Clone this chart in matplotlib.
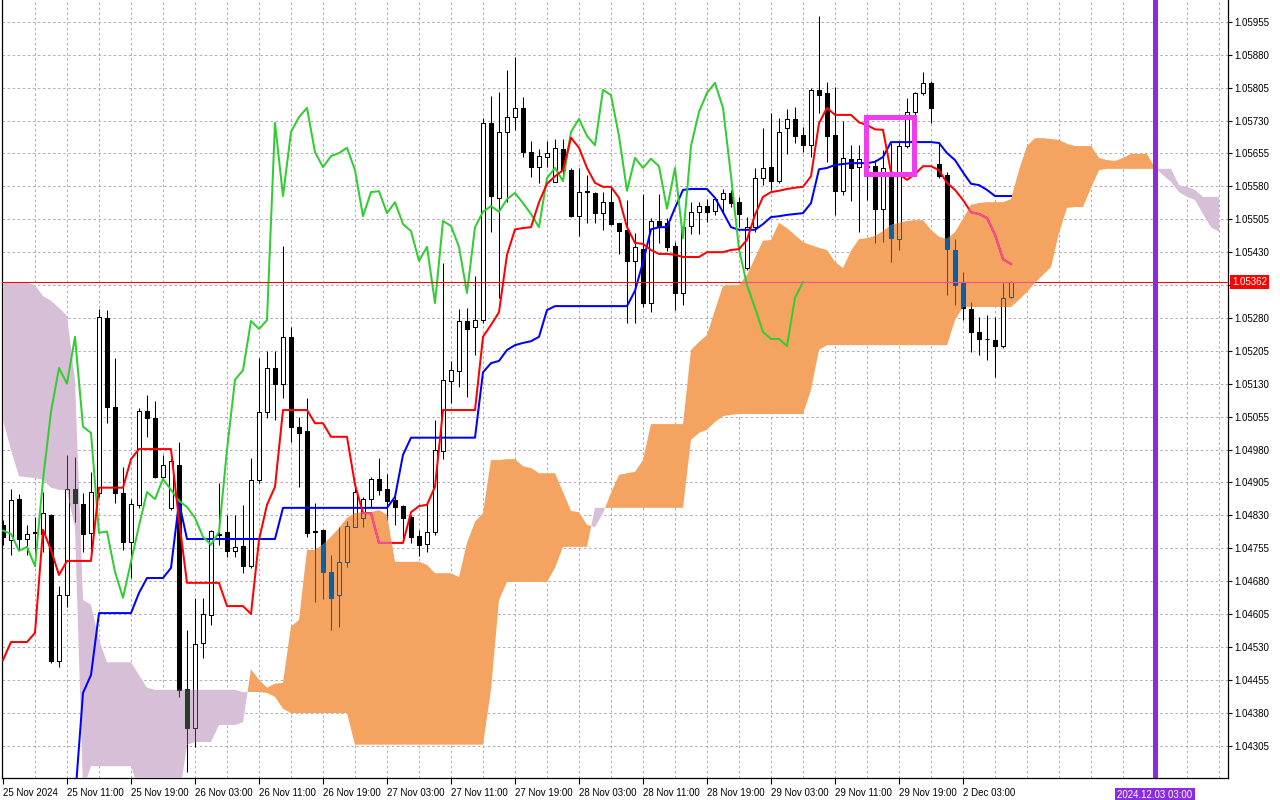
import numpy as np
import matplotlib
matplotlib.use("Agg")
import matplotlib.pyplot as plt
import matplotlib.transforms as mtransforms
from matplotlib.path import Path
from matplotlib.patches import Rectangle
from matplotlib.collections import LineCollection, PolyCollection

# ---------------- data (EURUSD H1) ----------------
open_ = [
    1.04808, 1.04774, 1.04867, 1.04776, 1.04790, 1.04788, 1.04831, 1.04498, 1.04649, 1.04890,
    1.04856, 1.04790, 1.04881, 1.05280, 1.05077, 1.04881, 1.04769, 1.04854, 1.05068, 1.05052,
    1.04917, 1.04847, 1.04945, 1.04434, 1.04345, 1.04539, 1.04603, 1.04786, 1.04792, 1.04749,
    1.04760, 1.04714, 1.04911, 1.05066, 1.05166, 1.05130, 1.05237, 1.05032, 1.05023, 1.04795,
    1.04797, 1.04701, 1.04649, 1.04724, 1.04804, 1.04824, 1.04867, 1.04913, 1.04890, 1.04865,
    1.04851, 1.04826, 1.04783, 1.04765, 1.04792, 1.04977, 1.05136, 1.05159, 1.05273, 1.05259,
    1.05275, 1.05725, 1.05554, 1.05704, 1.05738, 1.05759, 1.05658, 1.05624, 1.05647, 1.05590,
    1.05665, 1.05617, 1.05512, 1.05567, 1.05565, 1.05519, 1.05544, 1.05497, 1.05481, 1.05410,
    1.05437, 1.05314, 1.05501, 1.05497, 1.05444, 1.05337, 1.05490, 1.05522, 1.05535, 1.05524,
    1.05551, 1.05565, 1.05544, 1.05394, 1.05487, 1.05599, 1.05624, 1.05592, 1.05713, 1.05734,
    1.05697, 1.05674, 1.05800, 1.05793, 1.05697, 1.05570, 1.05643, 1.05624, 1.05624, 1.05626,
    1.05529, 1.05611, 1.05460, 1.05672, 1.05750, 1.05793, 1.05816, 1.05631, 1.05606, 1.05435,
    1.05360, 1.05301, 1.05248, 1.05232, 1.05230, 1.05216, 1.05328,
]
high = [
    1.04819, 1.04890, 1.04879, 1.04808, 1.04826, 1.04883, 1.04833, 1.04669, 1.04968, 1.04963,
    1.04881, 1.04929, 1.05300, 1.05298, 1.05189, 1.04940, 1.04867, 1.05075, 1.05104, 1.05091,
    1.04968, 1.04979, 1.04997, 1.04569, 1.04642, 1.04642, 1.04797, 1.04904, 1.04831, 1.04831,
    1.04854, 1.04961, 1.05189, 1.05205, 1.05205, 1.05444, 1.05259, 1.05054, 1.05098, 1.04858,
    1.04799, 1.04740, 1.04804, 1.04817, 1.04904, 1.04872, 1.04917, 1.04961, 1.04924, 1.04874,
    1.04854, 1.04831, 1.04797, 1.04858, 1.05047, 1.05405, 1.05182, 1.05300, 1.05303, 1.05376,
    1.05736, 1.05786, 1.05795, 1.05845, 1.05875, 1.05784, 1.05684, 1.05665, 1.05684, 1.05688,
    1.05688, 1.05622, 1.05622, 1.05606, 1.05567, 1.05567, 1.05576, 1.05497, 1.05549, 1.05474,
    1.05563, 1.05508, 1.05563, 1.05508, 1.05453, 1.05487, 1.05544, 1.05544, 1.05551, 1.05556,
    1.05574, 1.05572, 1.05556, 1.05510, 1.05622, 1.05713, 1.05747, 1.05736, 1.05757, 1.05761,
    1.05715, 1.05804, 1.05969, 1.05818, 1.05807, 1.05729, 1.05674, 1.05674, 1.05647, 1.05640,
    1.05663, 1.05679, 1.05681, 1.05782, 1.05795, 1.05841, 1.05820, 1.05681, 1.05613, 1.05460,
    1.05385, 1.05317, 1.05282, 1.05287, 1.05282, 1.05360, 1.05365,
]
low = [
    1.04763, 1.04740, 1.04751, 1.04740, 1.04740, 1.04746, 1.04493, 1.04484, 1.04621, 1.04815,
    1.04746, 1.04746, 1.04872, 1.05041, 1.04858, 1.04751, 1.04688, 1.04847, 1.05009, 1.04915,
    1.04915, 1.04842, 1.04416, 1.04245, 1.04302, 1.04505, 1.04580, 1.04763, 1.04735, 1.04735,
    1.04698, 1.04710, 1.04904, 1.05052, 1.05047, 1.05098, 1.04997, 1.04895, 1.04781, 1.04632,
    1.04639, 1.04569, 1.04575, 1.04712, 1.04804, 1.04804, 1.04849, 1.04876, 1.04819, 1.04808,
    1.04769, 1.04767, 1.04737, 1.04746, 1.04786, 1.04958, 1.05086, 1.05123, 1.05100, 1.05196,
    1.05269, 1.05476, 1.05326, 1.05544, 1.05709, 1.05647, 1.05601, 1.05588, 1.05624, 1.05590,
    1.05595, 1.05510, 1.05467, 1.05497, 1.05497, 1.05481, 1.05492, 1.05426, 1.05269, 1.05269,
    1.05305, 1.05294, 1.05451, 1.05433, 1.05298, 1.05310, 1.05471, 1.05471, 1.05499, 1.05515,
    1.05519, 1.05533, 1.05487, 1.05389, 1.05476, 1.05583, 1.05572, 1.05588, 1.05654, 1.05679,
    1.05658, 1.05647, 1.05747, 1.05636, 1.05515, 1.05560, 1.05547, 1.05476, 1.05549, 1.05451,
    1.05453, 1.05408, 1.05435, 1.05668, 1.05743, 1.05788, 1.05725, 1.05599, 1.05332, 1.05310,
    1.05275, 1.05203, 1.05196, 1.05184, 1.05146, 1.05212, 1.05326,
]
close = [
    1.04781, 1.04865, 1.04776, 1.04788, 1.04792, 1.04835, 1.04498, 1.04649, 1.04890, 1.04858,
    1.04788, 1.04883, 1.05282, 1.05077, 1.04881, 1.04769, 1.04856, 1.05068, 1.05052, 1.04917,
    1.04945, 1.04954, 1.04432, 1.04345, 1.04537, 1.04605, 1.04795, 1.04788, 1.04749, 1.04758,
    1.04714, 1.04911, 1.05066, 1.05166, 1.05130, 1.05237, 1.05032, 1.05018, 1.04790, 1.04793,
    1.04701, 1.04642, 1.04724, 1.04806, 1.04883, 1.04867, 1.04913, 1.04888, 1.04863, 1.04849,
    1.04824, 1.04781, 1.04763, 1.04792, 1.04979, 1.05139, 1.05161, 1.05273, 1.05255, 1.05275,
    1.05725, 1.05558, 1.05704, 1.05738, 1.05759, 1.05658, 1.05624, 1.05649, 1.05656, 1.05668,
    1.05617, 1.05512, 1.05567, 1.05569, 1.05519, 1.05544, 1.05494, 1.05478, 1.05410, 1.05442,
    1.05314, 1.05501, 1.05490, 1.05442, 1.05337, 1.05487, 1.05522, 1.05535, 1.05522, 1.05551,
    1.05565, 1.05542, 1.05517, 1.05487, 1.05599, 1.05622, 1.05592, 1.05704, 1.05734, 1.05695,
    1.05674, 1.05800, 1.05788, 1.05695, 1.05570, 1.05645, 1.05622, 1.05643, 1.05626, 1.05529,
    1.05622, 1.05462, 1.05672, 1.05750, 1.05793, 1.05816, 1.05759, 1.05604, 1.05437, 1.05355,
    1.05303, 1.05248, 1.05232, 1.05232, 1.05216, 1.05326, 1.05362,
]
tenkan = [
    1.04500, 1.04541, 1.04541, 1.04541, 1.04562, 1.04797, 1.04751, 1.04694, 1.04726, 1.04726,
    1.04726, 1.04726, 1.04893, 1.04893, 1.04893, 1.04893, 1.04958, 1.04981, 1.04981, 1.04981,
    1.04981, 1.04981, 1.04819, 1.04676, 1.04676, 1.04676, 1.04676, 1.04676, 1.04623, 1.04623,
    1.04623, 1.04605, 1.04774, 1.04854, 1.04895, 1.05070, 1.05070, 1.05070, 1.05070, 1.05040,
    1.05040, 1.05009, 1.05009, 1.05009, 1.04900, 1.04835, 1.04835, 1.04767, 1.04767, 1.04767,
    1.04767, 1.04837, 1.04851, 1.04854, 1.04895, 1.05070, 1.05070, 1.05070, 1.05070, 1.05070,
    1.05237, 1.05264, 1.05293, 1.05424, 1.05482, 1.05485, 1.05487, 1.05544, 1.05586, 1.05603,
    1.05617, 1.05691, 1.05668, 1.05622, 1.05588, 1.05579, 1.05579, 1.05554, 1.05487, 1.05451,
    1.05449, 1.05435, 1.05426, 1.05426, 1.05424, 1.05419, 1.05419, 1.05419, 1.05430, 1.05430,
    1.05430, 1.05435, 1.05437, 1.05458, 1.05515, 1.05556, 1.05567, 1.05570, 1.05574, 1.05577,
    1.05579, 1.05603, 1.05724, 1.05759, 1.05743, 1.05743, 1.05743, 1.05726, 1.05720, 1.05710,
    1.05709, 1.05612, 1.05608, 1.05595, 1.05608, 1.05626, 1.05626, 1.05617, 1.05588, 1.05572,
    1.05549, 1.05521, 1.05517, 1.05508, 1.05470, 1.05414, 1.05403,
]
nan = float("nan")
kijun = [
    nan, nan, nan, nan, nan, nan, nan, nan, nan, 1.04181,
    1.04425, 1.04466, 1.04607, 1.04607, 1.04607, 1.04607, 1.04607, 1.04653, 1.04687, 1.04687,
    1.04687, 1.04710, 1.04860, 1.04776, 1.04776, 1.04776, 1.04776, 1.04776, 1.04776, 1.04776,
    1.04776, 1.04776, 1.04776, 1.04776, 1.04776, 1.04847, 1.04847, 1.04847, 1.04847, 1.04847,
    1.04847, 1.04847, 1.04847, 1.04847, 1.04847, 1.04847, 1.04847, 1.04847, 1.04847, 1.04872,
    1.04968, 1.05007, 1.05007, 1.05007, 1.05007, 1.05007, 1.05007, 1.05007, 1.05007, 1.05007,
    1.05156, 1.05177, 1.05182, 1.05207, 1.05218, 1.05223, 1.05227, 1.05237, 1.05298, 1.05307,
    1.05307, 1.05307, 1.05307, 1.05307, 1.05307, 1.05307, 1.05307, 1.05307, 1.05307, 1.05342,
    1.05407, 1.05482, 1.05487, 1.05487, 1.05531, 1.05572, 1.05574, 1.05574, 1.05574, 1.05554,
    1.05521, 1.05487, 1.05481, 1.05481, 1.05481, 1.05494, 1.05510, 1.05512, 1.05515, 1.05517,
    1.05519, 1.05542, 1.05619, 1.05622, 1.05629, 1.05631, 1.05633, 1.05633, 1.05633, 1.05636,
    1.05647, 1.05681, 1.05681, 1.05681, 1.05681, 1.05681, 1.05681, 1.05679, 1.05656, 1.05640,
    1.05612, 1.05586, 1.05583, 1.05572, 1.05558, 1.05558, 1.05558,
]
span_a = [
    1.05047, 1.04979, 1.04919, 1.04917, 1.04915, 1.04911, 1.04893, 1.04888, 1.04888, 1.04801,
    1.04204, 1.04258, 1.04258, 1.04258, 1.04258, 1.04258, 1.04258, 1.04204, 1.04181, 1.04181,
    1.04181, 1.04181, 1.04181, 1.04307, 1.04313, 1.04313, 1.04313, 1.04352, 1.04352, 1.04352,
    1.04358, 1.04479, 1.04455, 1.04437, 1.04446, 1.04448, 1.04577, 1.04591, 1.04751, 1.04751,
    1.04763, 1.04781, 1.04801, 1.04824, 1.04835, 1.04837, 1.04837, 1.04842, 1.04831, 1.04724,
    1.04724, 1.04724, 1.04724, 1.04717, 1.04698, 1.04698, 1.04698, 1.04689, 1.04767, 1.04815,
    1.04835, 1.04956, 1.04956, 1.04958, 1.04958, 1.04942, 1.04938, 1.04926, 1.04926, 1.04926,
    1.04883, 1.04840, 1.04837, 1.04808, 1.04803, 1.04835, 1.04881, 1.04922, 1.04926, 1.04929,
    1.04956, 1.05038, 1.05038, 1.05038, 1.05038, 1.05038, 1.05207, 1.05225, 1.05241, 1.05298,
    1.05353, 1.05355, 1.05355, 1.05378, 1.05417, 1.05456, 1.05458, 1.05497, 1.05485, 1.05469,
    1.05453, 1.05446, 1.05440, 1.05435, 1.05408, 1.05394, 1.05433, 1.05460, 1.05462, 1.05467,
    1.05478, 1.05492, 1.05497, 1.05501, 1.05503, 1.05503, 1.05481, 1.05465, 1.05460, 1.05476,
    1.05506, 1.05538, 1.05542, 1.05544, 1.05544, 1.05544, 1.05551, 1.05617, 1.05672, 1.05690,
    1.05690, 1.05688, 1.05686, 1.05677, 1.05672, 1.05672, 1.05672, 1.05645, 1.05640, 1.05638,
    1.05645, 1.05654, 1.05654, 1.05654, 1.05622, 1.05606, 1.05590, 1.05567, 1.05556, 1.05549,
    1.05517, 1.05487, 1.05476,
]
span_b = [
    1.05360, 1.05360, 1.05360, 1.05360, 1.05355, 1.05330, 1.05319, 1.05303, 1.05285, 1.05139,
    1.04637, 1.04626, 1.04546, 1.04495, 1.04495, 1.04495, 1.04495, 1.04466, 1.04437, 1.04432,
    1.04432, 1.04432, 1.04432, 1.04432, 1.04432, 1.04432, 1.04432, 1.04432, 1.04432, 1.04432,
    1.04427, 1.04427, 1.04427, 1.04425, 1.04416, 1.04389, 1.04379, 1.04379, 1.04379, 1.04379,
    1.04379, 1.04379, 1.04379, 1.04379, 1.04307, 1.04307, 1.04307, 1.04307, 1.04307, 1.04307,
    1.04307, 1.04307, 1.04307, 1.04307, 1.04307, 1.04307, 1.04307, 1.04307, 1.04307, 1.04307,
    1.04307, 1.04432, 1.04637, 1.04678, 1.04678, 1.04678, 1.04678, 1.04678, 1.04678, 1.04710,
    1.04758, 1.04758, 1.04758, 1.04758, 1.04847, 1.04847, 1.04847, 1.04847, 1.04847, 1.04847,
    1.04847, 1.04847, 1.04847, 1.04847, 1.04847, 1.04847, 1.05002, 1.05018, 1.05025, 1.05043,
    1.05056, 1.05059, 1.05061, 1.05061, 1.05061, 1.05061, 1.05061, 1.05061, 1.05061, 1.05061,
    1.05061, 1.05116, 1.05207, 1.05218, 1.05218, 1.05218, 1.05218, 1.05218, 1.05218, 1.05218,
    1.05218, 1.05218, 1.05218, 1.05218, 1.05218, 1.05218, 1.05218, 1.05218, 1.05218, 1.05275,
    1.05305, 1.05305, 1.05305, 1.05305, 1.05305, 1.05305, 1.05305, 1.05321, 1.05339, 1.05360,
    1.05378, 1.05396, 1.05474, 1.05531, 1.05533, 1.05533, 1.05576, 1.05617, 1.05620, 1.05620,
    1.05620, 1.05620, 1.05620, 1.05620, 1.05620, 1.05620, 1.05620, 1.05583, 1.05579, 1.05572,
    1.05556, 1.05556, 1.05556,
]
time_ticks = [0, 8, 16, 24, 32, 40, 48, 56, 64, 72, 80, 88, 96, 104, 112, 120]
time_labels = ["25 Nov 2024", "25 Nov 11:00", "25 Nov 19:00", "26 Nov 03:00",
               "26 Nov 11:00", "26 Nov 19:00", "27 Nov 03:00", "27 Nov 11:00",
               "27 Nov 19:00", "28 Nov 03:00", "28 Nov 11:00", "28 Nov 19:00",
               "29 Nov 03:00", "29 Nov 11:00", "29 Nov 19:00", "2 Dec 03:00"]
price_ticks = [1.04305, 1.04380, 1.04455, 1.04530, 1.04605, 1.04680, 1.04755, 1.04830,
               1.04905, 1.04980, 1.05055, 1.05130, 1.05205, 1.05280, 1.05355, 1.05430,
               1.05505, 1.05580, 1.05655, 1.05730, 1.05805, 1.05880, 1.05955]
bid_price = 1.05362
now_bar = 144
now_label = "2024.12.03 03:00"
chikou_shift = 26
box_bars = (107.9, 113.9)
box_prices = (1.05609, 1.05739)

# ---------------- drawing ----------------
plt.rcParams["font.family"] = ["Liberation Sans", "DejaVu Sans"]

o = np.array(open_); h = np.array(high); l = np.array(low); c = np.array(close)
n = len(c)
xb = np.arange(n)
A = np.array(span_a); B = np.array(span_b)
xk = np.arange(len(A))

XMIN, XMAX = -0.125, 153.125
YMIN, YMAX = 1.04231, 1.06005

fig = plt.figure(figsize=(12.8, 8.0), dpi=100)
fig.patch.set_facecolor("white")
ax = fig.add_axes([2 / 1280, 22 / 800, 1226 / 1280, 778 / 800])
ax.set_xlim(XMIN, XMAX)
ax.set_ylim(YMIN, YMAX)

grid_kw = dict(colors="#b3a9bb", linewidth=0.7, linestyles=(0, (2.6, 2.6)), zorder=0.5)
ax.vlines(np.arange(4, 154, 4), YMIN, YMAX, **grid_kw)
ax.hlines(price_ticks, XMIN, XMAX, **grid_kw)

W = 0.62


def draw_candles(z, edge, bull_face, bear_face, clip=None):
    top = np.maximum(o, c)
    bot = np.minimum(o, c)
    segs = []
    for i in range(n):
        segs.append([(i, bot[i]), (i, l[i])])
        segs.append([(i, top[i]), (i, h[i])])
    wl = LineCollection(segs, colors=edge, linewidths=0.75, zorder=z)
    ax.add_collection(wl)
    polys = [[(i - W / 2, bot[i]), (i + W / 2, bot[i]), (i + W / 2, top[i]), (i - W / 2, top[i])]
             for i in range(n)]
    faces = [bull_face if c[i] >= o[i] else bear_face for i in range(n)]
    pc = PolyCollection(polys, facecolors=faces, edgecolors=edge, linewidths=0.75, zorder=z + 0.01)
    ax.add_collection(pc)
    if clip is not None:
        wl.set_clip_path(clip, ax.transData)
        pc.set_clip_path(clip, ax.transData)


draw_candles(2, "black", "white", "black")

up = ax.fill_between(xk, A, B, where=A >= B, interpolate=True, facecolor="#F4A460",
                     edgecolor="none", linewidth=0, zorder=3)
dn = ax.fill_between(xk, A, B, where=A < B, interpolate=True, facecolor="#D8BFD8",
                     edgecolor="none", linewidth=0, zorder=3)
up_path = Path.make_compound_path(*up.get_paths())
dn_path = Path.make_compound_path(*dn.get_paths())

draw_candles(3.5, "#0f5fa5", "none", "#0f5fa5", clip=up_path)
draw_candles(3.5, "#27402a", "none", "#27402a", clip=dn_path)

ax.plot(xb, kijun, color="#0000FF", lw=1.45, zorder=4)
ax.plot(xb[:n - chikou_shift], c[chikou_shift:], color="#32CD32", lw=1.45, zorder=4)
ax.plot(xb, tenkan, color="#FF0000", lw=1.45, zorder=4.05)
pk, = ax.plot(xb, tenkan, color="#F0509A", lw=1.45, zorder=4.06)
pk.set_clip_path(up_path, ax.transData)

ax.axhline(bid_price, color="#FF0000", lw=0.75, zorder=4.2)
bl = ax.axhline(bid_price, color="#F0509A", lw=0.75, zorder=4.21)
bl.set_clip_path(up_path, ax.transData)

ax.axvline(now_bar, color="#8A2BE2", lw=3.6, zorder=6)
ax.add_patch(Rectangle((box_bars[0], box_prices[0]), box_bars[1] - box_bars[0],
                       box_prices[1] - box_prices[0], fill=False, edgecolor="#EE3CEE",
                       lw=3.6, joinstyle="miter", zorder=6))

# axes / ticks
ax.yaxis.tick_right()
ax.set_yticks(price_ticks)
ax.set_yticklabels(["" if abs(p - 1.05355) < 1e-7 else f"{p:.5f}" for p in price_ticks])
ax.tick_params(axis="y", direction="out", length=3, width=0.8, pad=1.5, labelsize=7, colors="black")
ax.set_xticks(time_ticks)
ax.set_xticklabels(time_labels, ha="left")
ax.tick_params(axis="x", direction="out", length=4, width=0.8, pad=3, labelsize=7, colors="black")
ax.spines["top"].set_visible(False)
for s in ("left", "right", "bottom"):
    ax.spines[s].set_linewidth(0.9)
    ax.spines[s].set_color("black")

tr_y = mtransforms.blended_transform_factory(ax.transAxes, ax.transData)
ax.text(1 + 4 / 1226, bid_price, f"{bid_price:.5f}", transform=tr_y, ha="left", va="center",
        fontsize=7, color="white", clip_on=False, zorder=10,
        bbox=dict(boxstyle="square,pad=0.25", fc="#FF0000", ec="none"))
tr_x = mtransforms.blended_transform_factory(ax.transData, ax.transAxes)
ax.text(now_bar, -17 / 778, now_label, transform=tr_x, ha="center", va="center",
        fontsize=7, color="white", clip_on=False, zorder=10,
        bbox=dict(boxstyle="square,pad=0.25", fc="#8A2BE2", ec="none"))

fig.savefig("out.png", dpi=100, facecolor="white")
